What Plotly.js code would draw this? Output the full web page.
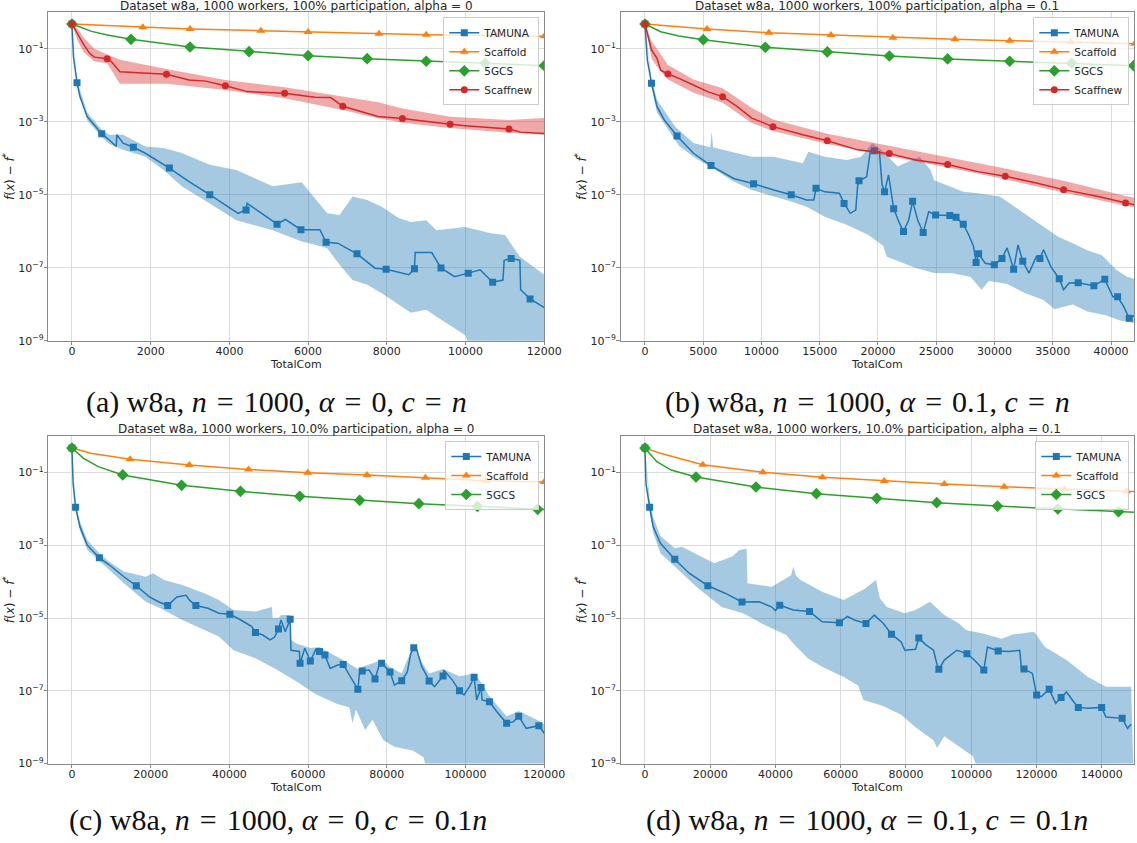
<!DOCTYPE html>
<html><head><meta charset="utf-8">
<script src="https://cdn.plot.ly/plotly-3.0.1.min.js"></script>
<style>html,body{margin:0;padding:0;background:#fff;} #chart{width:1137px;height:843px;}</style>
</head><body><div id="chart"></div>
<script>
// ---------------- tick labels ----------------
const yTickVals = [1e-9, 1e-7, 1e-5, 1e-3, 1e-1];
const yTickText = ['10<sup>−9</sup>', '10<sup>−7</sup>', '10<sup>−5</sup>', '10<sup>−3</sup>', '10<sup>−1</sup>'];
const seriesNames = ['TAMUNA', 'Scaffold', '5GCS', 'Scaffnew'];
const panelTitles = [
  'Dataset w8a, 1000 workers, 100% participation, alpha = 0',
  'Dataset w8a, 1000 workers, 100% participation, alpha = 0.1',
  'Dataset w8a, 1000 workers, 10.0% participation, alpha = 0',
  'Dataset w8a, 1000 workers, 10.0% participation, alpha = 0.1'
];
const E = '\u2004=\u2004';
const captions = [
  '(a) w8a, <i>n</i>' + E + '1000, <i>α</i>' + E + '0, <i>c</i>' + E + '<i>n</i>',
  '(b) w8a, <i>n</i>' + E + '1000, <i>α</i>' + E + '0.1, <i>c</i>' + E + '<i>n</i>',
  '(c) w8a, <i>n</i>' + E + '1000, <i>α</i>' + E + '0, <i>c</i>' + E + '0.1<i>n</i>',
  '(d) w8a, <i>n</i>' + E + '1000, <i>α</i>' + E + '0.1, <i>c</i>' + E + '0.1<i>n</i>'
];

// ---------------- panel (a) ----------------
const tamA_x = [0, 40, 129, 203, 388, 757, 942, 1127, 1140, 1300, 1561, 1866, 2476, 2975, 3501, 3898, 4220, 4424, 4450, 4820, 5210, 5420, 5819, 6300, 6457, 6750, 7242, 7700, 7981, 8560, 8701, 8720, 9140, 9375, 9720, 10068, 10370, 10688, 10950, 10980, 11158, 11380, 11400, 11639, 12000];
const tamA_y = [0.478, 0.06, 0.0118, 0.0049, 0.00138, 4.7e-4, 3.2e-4, 2.1e-4, 4.4e-4, 2.6e-4, 2.0e-4, 1.37e-4, 5.4e-5, 2.3e-5, 1.0e-5, 5.3e-6, 3.1e-6, 3.8e-6, 5.8e-6, 3.1e-6, 1.56e-6, 2.1e-6, 1.1e-6, 1.1e-6, 5.0e-7, 4.7e-7, 2.4e-7, 9.7e-8, 9.1e-8, 6.4e-8, 9.3e-8, 2.6e-7, 2.6e-7, 9.9e-8, 5.7e-8, 7.1e-8, 8.8e-8, 4.0e-8, 4.6e-8, 1.6e-7, 1.8e-7, 1.6e-7, 2.5e-8, 1.4e-8, 8.1e-9];
const tamA_mk = [0, 129, 757, 1561, 2476, 3501, 4424, 5210, 5819, 6457, 7242, 7981, 8701, 9375, 10068, 10688, 11158, 11639];
const tamA_hiX = [0, 129, 388, 757, 942, 1300, 1866, 2328, 2790, 3501, 4175, 5099, 5838, 6200, 6484, 6800, 7130, 7500, 7870, 8300, 8609, 9000, 9255, 9994, 10641, 11000, 11380, 12000];
const tamA_hi = [0.478, 0.014, 0.0018, 6e-4, 4.4e-4, 4.4e-4, 2.1e-4, 1.9e-4, 1.4e-4, 6.6e-5, 4.8e-5, 1.7e-5, 2.2e-5, 7.2e-6, 3.1e-6, 2.8e-6, 8.9e-6, 7.2e-6, 4.7e-6, 2.3e-6, 1.8e-6, 2.0e-6, 1.07e-6, 1.3e-6, 8.8e-7, 7.9e-7, 2.0e-7, 6.4e-8];
const tamA_loX = [0, 129, 388, 757, 942, 1300, 1866, 2328, 2790, 3501, 4175, 5099, 5838, 6200, 6484, 6800, 7130, 7500, 7870, 8300, 8609, 9000, 9255, 9994, 10400, 12000];
const tamA_lo = [0.478, 0.010, 0.0011, 3.8e-4, 2.5e-4, 1.7e-4, 1.1e-4, 4.8e-5, 1.7e-5, 5.8e-6, 2.0e-6, 1.07e-6, 5.2e-7, 4.2e-7, 3.4e-7, 1.2e-7, 4.6e-8, 3.4e-8, 2.0e-8, 9.6e-9, 5.8e-9, 7e-9, 4.6e-9, 1.4e-9, 1e-10, 1e-10];
const scA_x = [0, 1800, 3000, 4800, 6000, 7800, 9000, 10800, 12000];
const scA_y = [0.478, 0.388, 0.349, 0.313, 0.289, 0.259, 0.243, 0.23, 0.22];
const scA_mk = [0, 1800, 3000, 4800, 6000, 7800, 9000, 10800, 12000];
const gcA_x = [0, 200, 500, 900, 1500, 3000, 4500, 6000, 7500, 9000, 10500, 12000];
const gcA_y = [0.478, 0.40, 0.30, 0.24, 0.182, 0.112, 0.0833, 0.0648, 0.0536, 0.0455, 0.0401, 0.0344];
const gcA_mk = [0, 1500, 3000, 4500, 6000, 7500, 9000, 10500, 12000];
const snA_x = [0, 150, 300, 450, 570, 896, 1000, 1219, 1800, 2402, 2975, 3400, 3898, 4452, 5404, 6171, 6577, 6882, 7778, 8396, 9606, 10000, 11103, 11400, 12000];
const snA_y = [0.478, 0.25, 0.13, 0.075, 0.059, 0.0536, 0.045, 0.0235, 0.022, 0.020, 0.014, 0.013, 0.00975, 0.0067, 0.006, 0.0047, 0.0046, 0.00266, 0.00139, 0.00122, 0.000855, 0.00078, 0.000635, 0.00052, 0.00048];
const snA_mk = [0, 896, 2402, 3898, 5404, 6882, 8396, 9606, 11103];
const snA_bx = [0, 150, 300, 570, 896, 1219, 2402, 3898, 5404, 6882, 7778, 8396, 9606, 11103, 12000];
const snA_hi = [0.478, 0.35, 0.2, 0.1, 0.07, 0.05, 0.028, 0.014, 0.0088, 0.0049, 0.0034, 0.0023, 0.00138, 0.00112, 0.00126];
const snA_lo = [0.478, 0.16, 0.08, 0.045, 0.04, 0.011, 0.011, 0.0074, 0.0044, 0.0021, 0.00125, 0.00094, 0.00067, 0.0005, 0.00044];

// ---------------- panel (b) ----------------
const tamB_x = [0, 200, 563, 1033, 1659, 2754, 4163, 5665, 7606, 9327, 11049, 12551, 13866, 14492, 14680, 15431, 16683, 17090, 17622, 18091, 18248, 18373, 19030, 19343, 19688, 20126, 20345, 20564, 20908, 21221, 21347, 21847, 22192, 22630, 22974, 23412, 23882, 24351, 24946, 26167, 26699, 27325, 27794, 28201, 28420, 28640, 29203, 29985, 30643, 31081, 31644, 32020, 32427, 32959, 33585, 33898, 34211, 34837, 35557, 35932, 36402, 37184, 38530, 39469, 40158, 40565, 41097, 41566, 42349];
const tamB_y = [0.478, 0.05, 0.0113, 0.0026, 0.00112, 4.1e-4, 1.37e-4, 6.3e-5, 2.8e-5, 2.0e-5, 1.35e-5, 1.0e-5, 7.2e-6, 7.2e-6, 1.5e-5, 1.2e-5, 1.1e-5, 5.8e-6, 3.1e-6, 3.8e-6, 1.7e-5, 2.4e-5, 3.1e-5, 1.6e-4, 1.6e-4, 1.5e-4, 1.9e-5, 1.2e-5, 3.5e-5, 7.2e-6, 4.1e-6, 1.66e-6, 9.8e-7, 2.0e-6, 6.6e-6, 2.0e-6, 9.2e-7, 3.4e-6, 2.8e-6, 2.7e-6, 2.4e-6, 1.56e-6, 7.9e-7, 3.8e-7, 1.4e-7, 2.4e-7, 1.33e-7, 1.2e-7, 1.8e-7, 3.5e-7, 9.1e-8, 4.2e-7, 1.5e-7, 7.1e-8, 2.0e-7, 1.8e-7, 3.1e-7, 1.07e-7, 5.0e-8, 2.5e-8, 3.8e-8, 3.9e-8, 3.2e-8, 4.8e-8, 1.6e-8, 1.6e-8, 8.6e-9, 4.1e-9, 5.7e-9];
const tamB_mk = [0, 563, 2754, 5665, 9327, 12551, 14680, 17090, 18373, 19688, 20564, 21347, 22192, 22974, 23882, 24946, 26167, 26699, 27325, 28420, 28640, 29985, 30643, 31644, 32427, 33898, 35557, 37184, 38530, 39469, 40565, 41566];
const tamB_hiX = [0, 563, 1033, 2598, 4163, 5600, 5728, 5850, 6667, 9171, 11049, 13553, 14022, 15431, 17309, 18561, 19500, 20282, 21691, 23569, 24508, 24821, 27325, 28577, 30455, 31707, 32959, 34211, 35463, 36715, 37967, 39219, 40471, 41410, 42349];
const tamB_hi = [0.478, 0.015, 0.004, 7.3e-4, 2.6e-4, 2.0e-4, 5.4e-4, 2.0e-4, 1.7e-4, 1.1e-4, 1.1e-4, 7.3e-5, 1.5e-4, 1.1e-4, 9.0e-5, 1.1e-4, 2.6e-4, 1.7e-4, 5.9e-5, 1.1e-4, 4.8e-5, 2.5e-5, 1.2e-5, 1.1e-5, 8.9e-6, 4.7e-6, 2.5e-6, 1.3e-6, 7.1e-7, 4.7e-7, 3.0e-7, 2.2e-7, 8.7e-8, 5.6e-8, 4.6e-8];
const tamB_loX = [0, 563, 1033, 2911, 4163, 6041, 7606, 9171, 12551, 13866, 15431, 17309, 19187, 20439, 20752, 23256, 24821, 26386, 27951, 28890, 29516, 31081, 32646, 34211, 35150, 36715, 37967, 39532, 40784, 42349];
const tamB_lo = [0.478, 0.009, 0.0018, 2.2e-4, 1.1e-4, 4.8e-5, 2.3e-5, 1.35e-5, 6.5e-6, 4.7e-6, 2.5e-6, 1.5e-6, 7.9e-7, 4.0e-7, 2.0e-7, 9.8e-8, 7.2e-8, 7e-8, 5.6e-8, 2.5e-8, 4.3e-8, 3.6e-8, 2.0e-8, 1.3e-8, 7.3e-9, 9.8e-9, 6.3e-9, 5.0e-9, 3.6e-9, 2.9e-9];
const scB_x = [0, 5321, 10642, 15963, 21284, 26605, 31300, 36558, 42036];
const scB_y = [0.478, 0.349, 0.276, 0.239, 0.201, 0.182, 0.167, 0.154, 0.138];
const scB_mk = [0, 5321, 10642, 15963, 21284, 26605, 31300, 36558, 42036];
const gcB_x = [0, 1346, 2911, 5008, 10329, 15650, 20971, 25979, 31300, 36621, 41942];
const gcB_y = [0.478, 0.294, 0.225, 0.178, 0.110, 0.0818, 0.0635, 0.0527, 0.0455, 0.0402, 0.0344];
const gcB_mk = [0, 5008, 10329, 15650, 20971, 25979, 31300, 36621, 41942];
const snB_x = [0, 250, 563, 1033, 1346, 1972, 2911, 4163, 5415, 6667, 7919, 9171, 10986, 13553, 15650, 18248, 20971, 23256, 25979, 28577, 30924, 33585, 35932, 38906, 41253, 42349];
const snB_y = [0.478, 0.215, 0.093, 0.055, 0.026, 0.0204, 0.0155, 0.0102, 0.0066, 0.00488, 0.0026, 0.00126, 0.000735, 0.00044, 0.000303, 0.00017, 0.000134, 9.0e-5, 6.7e-5, 4.3e-5, 3.2e-5, 2.1e-5, 1.38e-5, 8.9e-6, 5.96e-6, 5.0e-6];
const snB_mk = [0, 1972, 6667, 10986, 15650, 20971, 25979, 30924, 35932, 41253];
const snB_bx = [0, 563, 1033, 1972, 4163, 6667, 9171, 10986, 15650, 20971, 25979, 30924, 35932, 41253, 42349];
const snB_hi = [0.478, 0.16, 0.1, 0.036, 0.0145, 0.0083, 0.0024, 0.00115, 4.7e-4, 2.2e-4, 1.08e-4, 5.2e-5, 2.4e-5, 9.2e-6, 8.0e-6];
const snB_lo = [0.478, 0.055, 0.032, 0.0145, 0.0062, 0.0033, 0.00092, 5.6e-4, 2.45e-4, 1.13e-4, 5.6e-5, 2.65e-5, 1.15e-5, 5.0e-6, 4.4e-6];

// ---------------- panel (c) ----------------
const tamC_x = [0, 300, 929, 2043, 3901, 6966, 9474, 13189, 16347, 19691, 22000, 24335, 26657, 28979, 30000, 31486, 34551, 37338, 40124, 42910, 45696, 46626, 48484, 50342, 51500, 52477, 53127, 54200, 55449, 55635, 57771, 57957, 59164, 60558, 62000, 62880, 64273, 65600, 67500, 68917, 70774, 72632, 73097, 73747, 75500, 76998, 78204, 78669, 80806, 81921, 83778, 85200, 86100, 86843, 87500, 88886, 89800, 90744, 92137, 94273, 94458, 96600, 98453, 99600, 101000, 102168, 102818, 103933, 104200, 106069, 107900, 110434, 112100, 113499, 115400, 118608, 120000];
const tamC_y = [0.468, 0.05, 0.011, 0.0032, 1.0e-3, 4.5e-4, 2.9e-4, 1.36e-4, 7.7e-5, 3.8e-5, 2.8e-5, 2.2e-5, 3.8e-5, 4.2e-5, 3.0e-5, 2.2e-5, 1.85e-5, 1.35e-5, 1.26e-5, 8.8e-6, 5.8e-6, 4.0e-6, 3.4e-6, 2.5e-6, 3.0e-6, 5.0e-6, 8.8e-6, 4.2e-6, 9.2e-6, 1.3e-6, 1.2e-6, 5.7e-7, 1.47e-6, 6.6e-7, 1.4e-6, 1.2e-6, 9.6e-7, 4.1e-7, 5.1e-7, 5.3e-7, 2.4e-7, 1.1e-7, 3.3e-7, 3.5e-7, 3.7e-7, 2.1e-7, 5.7e-7, 5.7e-7, 3.3e-7, 1.44e-7, 1.9e-7, 3.3e-7, 1.07e-6, 1.53e-6, 1.47e-6, 4.6e-7, 3.0e-7, 1.86e-7, 1.3e-7, 2.55e-7, 3.7e-7, 2.0e-7, 1.0e-7, 7.7e-8, 1.3e-7, 2.35e-7, 5.6e-8, 1.24e-7, 5.6e-8, 5.0e-8, 2.7e-8, 1.28e-8, 1.4e-8, 2.0e-8, 9.3e-9, 1.1e-8, 6.8e-9];
const tamC_mk = [0, 929, 6966, 16347, 24335, 31486, 40124, 46626, 52477, 55449, 57957, 60558, 62880, 64273, 68917, 72632, 73747, 76998, 78669, 80806, 83778, 86843, 90744, 94273, 98453, 102168, 103933, 106069, 110434, 113499, 118608];
const tamC_hiX = [0, 929, 2043, 3901, 6966, 9474, 13189, 18762, 20619, 23406, 28050, 33623, 37338, 41053, 46626, 50342, 50806, 51000, 52477, 53127, 55449, 55700, 57000, 60558, 62880, 64273, 68917, 72632, 73747, 78669, 80806, 83778, 86843, 88886, 90744, 94273, 98453, 102168, 103933, 106069, 110434, 113499, 118608, 120000];
const tamC_hi = [0.468, 0.014, 0.0045, 0.0014, 6e-4, 3.5e-4, 1.9e-4, 1.36e-4, 1.7e-4, 1.1e-4, 8.1e-5, 4.8e-5, 3.1e-5, 1.66e-5, 1.5e-5, 2.0e-5, 2.0e-5, 1.0e-5, 1.0e-5, 1.2e-5, 1.2e-5, 2.5e-6, 2.0e-6, 1.5e-6, 1.6e-6, 1.3e-6, 7e-7, 4e-7, 4.5e-7, 7e-7, 4.5e-7, 3e-7, 1.9e-6, 6e-7, 3e-7, 4e-7, 2.5e-7, 3e-7, 1.7e-7, 7e-8, 2e-8, 2.8e-8, 1.5e-8, 1.2e-8];
const tamC_loX = [0, 929, 2043, 3901, 6966, 9474, 13189, 18762, 22477, 28050, 33623, 37338, 41053, 46626, 52200, 57771, 61487, 67059, 70500, 71239, 72168, 74490, 76348, 79134, 81920, 86564, 89350, 91673, 120000];
const tamC_lo = [0.468, 0.009, 0.0025, 7.5e-4, 3.5e-4, 2.1e-4, 9.0e-5, 2.8e-5, 1.85e-5, 8.8e-6, 4.7e-6, 3.1e-6, 1.3e-6, 7.8e-7, 3.7e-7, 1.6e-7, 8.5e-8, 4.5e-8, 3.5e-8, 1.28e-8, 3.0e-8, 8.4e-9, 1.6e-8, 4.4e-9, 2.9e-9, 2.3e-9, 1.5e-9, 1e-10, 1e-10];
const scC_x = [0, 4830, 14768, 29815, 44861, 59908, 74954, 89815, 105140, 120000];
const scC_y = [0.468, 0.334, 0.229, 0.16, 0.121, 0.098, 0.085, 0.0716, 0.0592, 0.0545];
const scC_mk = [0, 14768, 29815, 44861, 59908, 74954, 89815, 105140, 120000];
const gcC_x = [0, 2972, 6687, 12910, 27864, 42818, 57864, 73097, 88143, 103004, 118329, 120000];
const gcC_y = [0.468, 0.243, 0.144, 0.085, 0.0442, 0.0302, 0.022, 0.0171, 0.0138, 0.0117, 0.0097, 0.0096];
const gcC_mk = [0, 12910, 27864, 42818, 57864, 73097, 88143, 103004, 118329];

// ---------------- panel (d) ----------------
const tamD_x = [0, 300, 1432, 2533, 4736, 9142, 13548, 19276, 24563, 29741, 35000, 38883, 39984, 41306, 45492, 50449, 54304, 59591, 62015, 64217, 67742, 70276, 73030, 75563, 78537, 79638, 82943, 83934, 86247, 88450, 89552, 90103, 91755, 95610, 98694, 101118, 103871, 104973, 108277, 111582, 114886, 115437, 116208, 118742, 120064, 121495, 123919, 125901, 127554, 129206, 131409, 132841, 135815, 140001, 141322, 146279, 147931, 149033];
const tamD_y = [0.468, 0.05, 0.011, 0.0032, 1.13e-3, 4.1e-4, 1.7e-4, 7.7e-5, 4.8e-5, 2.75e-5, 2.8e-5, 2.0e-5, 1.6e-5, 2.25e-5, 1.66e-5, 1.5e-5, 7.9e-6, 7.4e-6, 1.1e-5, 8.8e-6, 7.1e-6, 1.2e-5, 7.2e-6, 3.6e-6, 2.2e-6, 1.3e-6, 1.38e-6, 2.8e-6, 1.8e-6, 1.3e-6, 5.1e-7, 3.9e-7, 7.0e-7, 1.3e-6, 1.05e-6, 6.8e-7, 3.7e-7, 1.6e-6, 1.24e-6, 1.2e-6, 1.3e-6, 3.7e-7, 4.0e-7, 3.0e-7, 7.7e-8, 6.9e-8, 1.1e-7, 4.5e-8, 6.5e-8, 9.3e-8, 5.0e-8, 3.5e-8, 3.3e-8, 3.5e-8, 1.9e-8, 1.75e-8, 9.3e-9, 1.2e-8];
const tamD_mk = [0, 1432, 9142, 19276, 29741, 41306, 50449, 59591, 67742, 75563, 83934, 90103, 98694, 103871, 108277, 116208, 120064, 123919, 127554, 132841, 140001, 146279];
const tamD_hiX = [0, 1432, 2533, 4736, 9142, 11345, 21259, 26766, 28969, 31172, 31400, 38883, 44800, 45492, 46200, 47695, 54304, 60912, 67521, 70826, 72000, 74131, 79638, 82943, 87349, 91755, 96161, 98364, 103871, 109379, 112683, 119292, 122597, 129206, 135815, 141322, 149033];
const tamD_hi = [0.468, 0.018, 0.006, 0.0018, 8.2e-4, 9.0e-4, 3.2e-4, 4.9e-4, 7.4e-4, 8e-4, 9e-5, 7.2e-5, 1.5e-4, 2.6e-4, 1.5e-4, 1.1e-4, 5.3e-5, 3.1e-5, 6.5e-5, 1.1e-4, 3.5e-5, 2.0e-5, 1.35e-5, 1.66e-5, 2.8e-5, 1.2e-5, 7.2e-6, 4.7e-6, 3.7e-6, 2.7e-6, 3.5e-6, 4.2e-6, 1.6e-6, 7.0e-7, 2.4e-7, 1.3e-7, 1.3e-7];
const tamD_loX = [0, 1432, 2533, 4736, 9142, 15751, 23462, 30071, 36681, 43290, 45492, 49898, 54304, 60912, 65318, 66969, 73030, 78537, 82943, 88450, 89552, 91755, 96161, 100567, 104973, 150000];
const tamD_lo = [0.468, 0.008, 0.0022, 6e-4, 2.6e-4, 7.2e-5, 2.0e-5, 1.35e-5, 6.4e-6, 3.4e-6, 2.0e-6, 7.8e-7, 4.6e-7, 2.4e-7, 1.4e-7, 5.6e-8, 3.8e-8, 2.2e-8, 1.0e-8, 4.4e-9, 2.7e-9, 5.6e-9, 3e-9, 1.6e-9, 1e-10, 1e-10];
const scD_x = [0, 4736, 17734, 36129, 54414, 73360, 91755, 110150, 128655, 147601, 150000];
const scD_y = [0.468, 0.334, 0.163, 0.1005, 0.0733, 0.058, 0.048, 0.0405, 0.0343, 0.0302, 0.030];
const scD_mk = [0, 17734, 36129, 54414, 73360, 91755, 110150, 128655, 147601];
const gcD_x = [0, 3635, 8041, 15641, 34036, 52542, 71047, 89442, 108057, 126562, 145178, 150000];
const gcD_y = [0.468, 0.197, 0.116, 0.0748, 0.0397, 0.026, 0.0194, 0.0147, 0.0119, 0.0099, 0.0083, 0.008];
const gcD_mk = [0, 15641, 34036, 52542, 71047, 89442, 108057, 126562, 145178];

// ---------------- styling ----------------
const C = {tam: '#1f77b4', sc: '#ff7f0e', gc: '#2ca02c', sn: '#d62728'};
const FONT = 'DejaVu Sans';

function selIdx(x, mk) { const s = []; x.forEach((v, i) => { if (mk.indexOf(v) >= 0) s.push(i); }); return s; }
function axId(p, k) { return p === 1 ? k : k + p; }
function lineTr(p, x, y, mk, name, color, symbol, size) {
  return {type: 'scatter', mode: 'lines+markers', x: x, y: y, name: name,
    xaxis: axId(p, 'x'), yaxis: axId(p, 'y'), legend: p === 1 ? 'legend' : 'legend' + p,
    line: {color: color, width: 1.5}, marker: {color: color, symbol: symbol, size: size, line: {width: 0}},
    selectedpoints: selIdx(x, mk), selected: {marker: {opacity: 1}}, unselected: {marker: {opacity: 0}},
    hoverinfo: 'skip'};
}
function bandTr(p, hx, hy, lx, ly, fill) {
  return {type: 'scatter', mode: 'lines', x: hx.concat(lx.slice().reverse()), y: hy.concat(ly.slice().reverse()),
    xaxis: axId(p, 'x'), yaxis: axId(p, 'y'), fill: 'toself', fillcolor: fill,
    line: {width: 0, color: 'rgba(0,0,0,0)'}, showlegend: false, hoverinfo: 'skip'};
}
const blueFill = 'rgba(31,119,180,0.4)', redFill = 'rgba(214,39,40,0.4)';

const traces = [
  bandTr(1, tamA_hiX, tamA_hi, tamA_loX, tamA_lo, blueFill),
  lineTr(1, tamA_x, tamA_y, tamA_mk, seriesNames[0], C.tam, 'square', 7),
  lineTr(1, scA_x, scA_y, scA_mk, seriesNames[1], C.sc, 'triangle-up', 8),
  lineTr(1, gcA_x, gcA_y, gcA_mk, seriesNames[2], C.gc, 'diamond', 9),
  bandTr(1, snA_bx, snA_hi, snA_bx, snA_lo, redFill),
  lineTr(1, snA_x, snA_y, snA_mk, seriesNames[3], C.sn, 'circle', 7),

  bandTr(2, tamB_hiX, tamB_hi, tamB_loX, tamB_lo, blueFill),
  lineTr(2, tamB_x, tamB_y, tamB_mk, seriesNames[0], C.tam, 'square', 7),
  lineTr(2, scB_x, scB_y, scB_mk, seriesNames[1], C.sc, 'triangle-up', 8),
  lineTr(2, gcB_x, gcB_y, gcB_mk, seriesNames[2], C.gc, 'diamond', 9),
  bandTr(2, snB_bx, snB_hi, snB_bx, snB_lo, redFill),
  lineTr(2, snB_x, snB_y, snB_mk, seriesNames[3], C.sn, 'circle', 7),

  bandTr(3, tamC_hiX, tamC_hi, tamC_loX, tamC_lo, blueFill),
  lineTr(3, tamC_x, tamC_y, tamC_mk, seriesNames[0], C.tam, 'square', 7),
  lineTr(3, scC_x, scC_y, scC_mk, seriesNames[1], C.sc, 'triangle-up', 8),
  lineTr(3, gcC_x, gcC_y, gcC_mk, seriesNames[2], C.gc, 'diamond', 9),

  bandTr(4, tamD_hiX, tamD_hi, tamD_loX, tamD_lo, blueFill),
  lineTr(4, tamD_x, tamD_y, tamD_mk, seriesNames[0], C.tam, 'square', 7),
  lineTr(4, scD_x, scD_y, scD_mk, seriesNames[1], C.sc, 'triangle-up', 8),
  lineTr(4, gcD_x, gcD_y, gcD_mk, seriesNames[2], C.gc, 'diamond', 9)
];

const W = 1137, H = 843;
const colL = [48.3 / W, 544.3 / W], colR = [620.5 / W, 1134.3 / W];
const rowT = [1 - 340.7 / H, 1 - 12.3 / H], rowB = [1 - 763.6 / H, 1 - 436 / H];
const axBase = {showline: true, linecolor: '#8a8a8a', linewidth: 1, mirror: true, ticks: 'outside', ticklen: 3.5,
  tickwidth: 1, tickcolor: '#8a8a8a', showgrid: true, gridcolor: '#dcdcdc', gridwidth: 1, zeroline: false,
  tickfont: {family: FONT, size: 11, color: '#262626'}};
function xax(dom, anchor, range, dtick) {
  return Object.assign({}, axBase, {domain: dom, anchor: anchor, range: range, tick0: 0, dtick: dtick, tickformat: 'd',
    ticklabelstandoff: -3,
    title: {text: 'TotalCom', font: {family: FONT, size: 11, color: '#262626'}, standoff: 0}});
}
function yax(dom, anchor) {
  return Object.assign({}, axBase, {domain: dom, anchor: anchor, type: 'log', range: [-9, 0],
    tickvals: yTickVals, ticktext: yTickText, ticklabelstandoff: -2,
    title: {text: '<i>f</i>(<i>x</i>) − <i>f</i><sup>*</sup>', font: {family: FONT, size: 12, color: '#262626'}, standoff: 1}});
}
function leg(xr, yt) {
  return {x: xr, xanchor: 'right', y: yt, yanchor: 'top', bgcolor: 'rgba(255,255,255,0.8)', bordercolor: '#cccccc',
    borderwidth: 1, font: {family: FONT, size: 10.5, color: '#262626'}, itemwidth: 30, tracegroupgap: 0};
}
const titleFont = {family: FONT, size: 12, color: '#262626'};
const capFont = {family: 'Liberation Serif', size: 30, color: '#111'};
const layout = {
  width: W, height: H, autosize: false, margin: {l: 0, r: 0, t: 0, b: 0},
  paper_bgcolor: '#ffffff', plot_bgcolor: '#ffffff', showlegend: true,
  font: {family: FONT, size: 11, color: '#262626'},
  xaxis: xax(colL, 'y', [-600, 12000], 2000), yaxis: yax(rowT, 'x'),
  xaxis2: xax(colR, 'y2', [-2100, 42000], 5000), yaxis2: yax(rowT, 'x2'),
  xaxis3: xax(colL, 'y3', [-6000, 120000], 20000), yaxis3: yax(rowB, 'x3'),
  xaxis4: xax(colR, 'y4', [-7500, 150000], 20000), yaxis4: yax(rowB, 'x4'),
  legend: leg(539.3 / W, 1 - 17.3 / H), legend2: leg(1129.3 / W, 1 - 17.3 / H),
  legend3: leg(539.3 / W, 1 - 441 / H), legend4: leg(1129.3 / W, 1 - 441 / H),
  annotations: [
    {text: panelTitles[0], x: 296.3 / W, y: 1 - 6 / H, xref: 'paper', yref: 'paper', showarrow: false, xanchor: 'center', yanchor: 'middle', font: titleFont},
    {text: panelTitles[1], x: 877.4 / W, y: 1 - 6 / H, xref: 'paper', yref: 'paper', showarrow: false, xanchor: 'center', yanchor: 'middle', font: titleFont},
    {text: panelTitles[2], x: 296.3 / W, y: 1 - 429 / H, xref: 'paper', yref: 'paper', showarrow: false, xanchor: 'center', yanchor: 'middle', font: titleFont},
    {text: panelTitles[3], x: 877.4 / W, y: 1 - 429 / H, xref: 'paper', yref: 'paper', showarrow: false, xanchor: 'center', yanchor: 'middle', font: titleFont},
    {text: captions[0], x: 276 / W, y: 1 - 402 / H, xref: 'paper', yref: 'paper', showarrow: false, xanchor: 'center', yanchor: 'middle', font: capFont},
    {text: captions[1], x: 867.5 / W, y: 1 - 402 / H, xref: 'paper', yref: 'paper', showarrow: false, xanchor: 'center', yanchor: 'middle', font: capFont},
    {text: captions[2], x: 278 / W, y: 1 - 820 / H, xref: 'paper', yref: 'paper', showarrow: false, xanchor: 'center', yanchor: 'middle', font: capFont},
    {text: captions[3], x: 867 / W, y: 1 - 820 / H, xref: 'paper', yref: 'paper', showarrow: false, xanchor: 'center', yanchor: 'middle', font: capFont}
  ]
};
Plotly.newPlot('chart', traces, layout, {staticPlot: true, displayModeBar: false});
</script></body></html>
